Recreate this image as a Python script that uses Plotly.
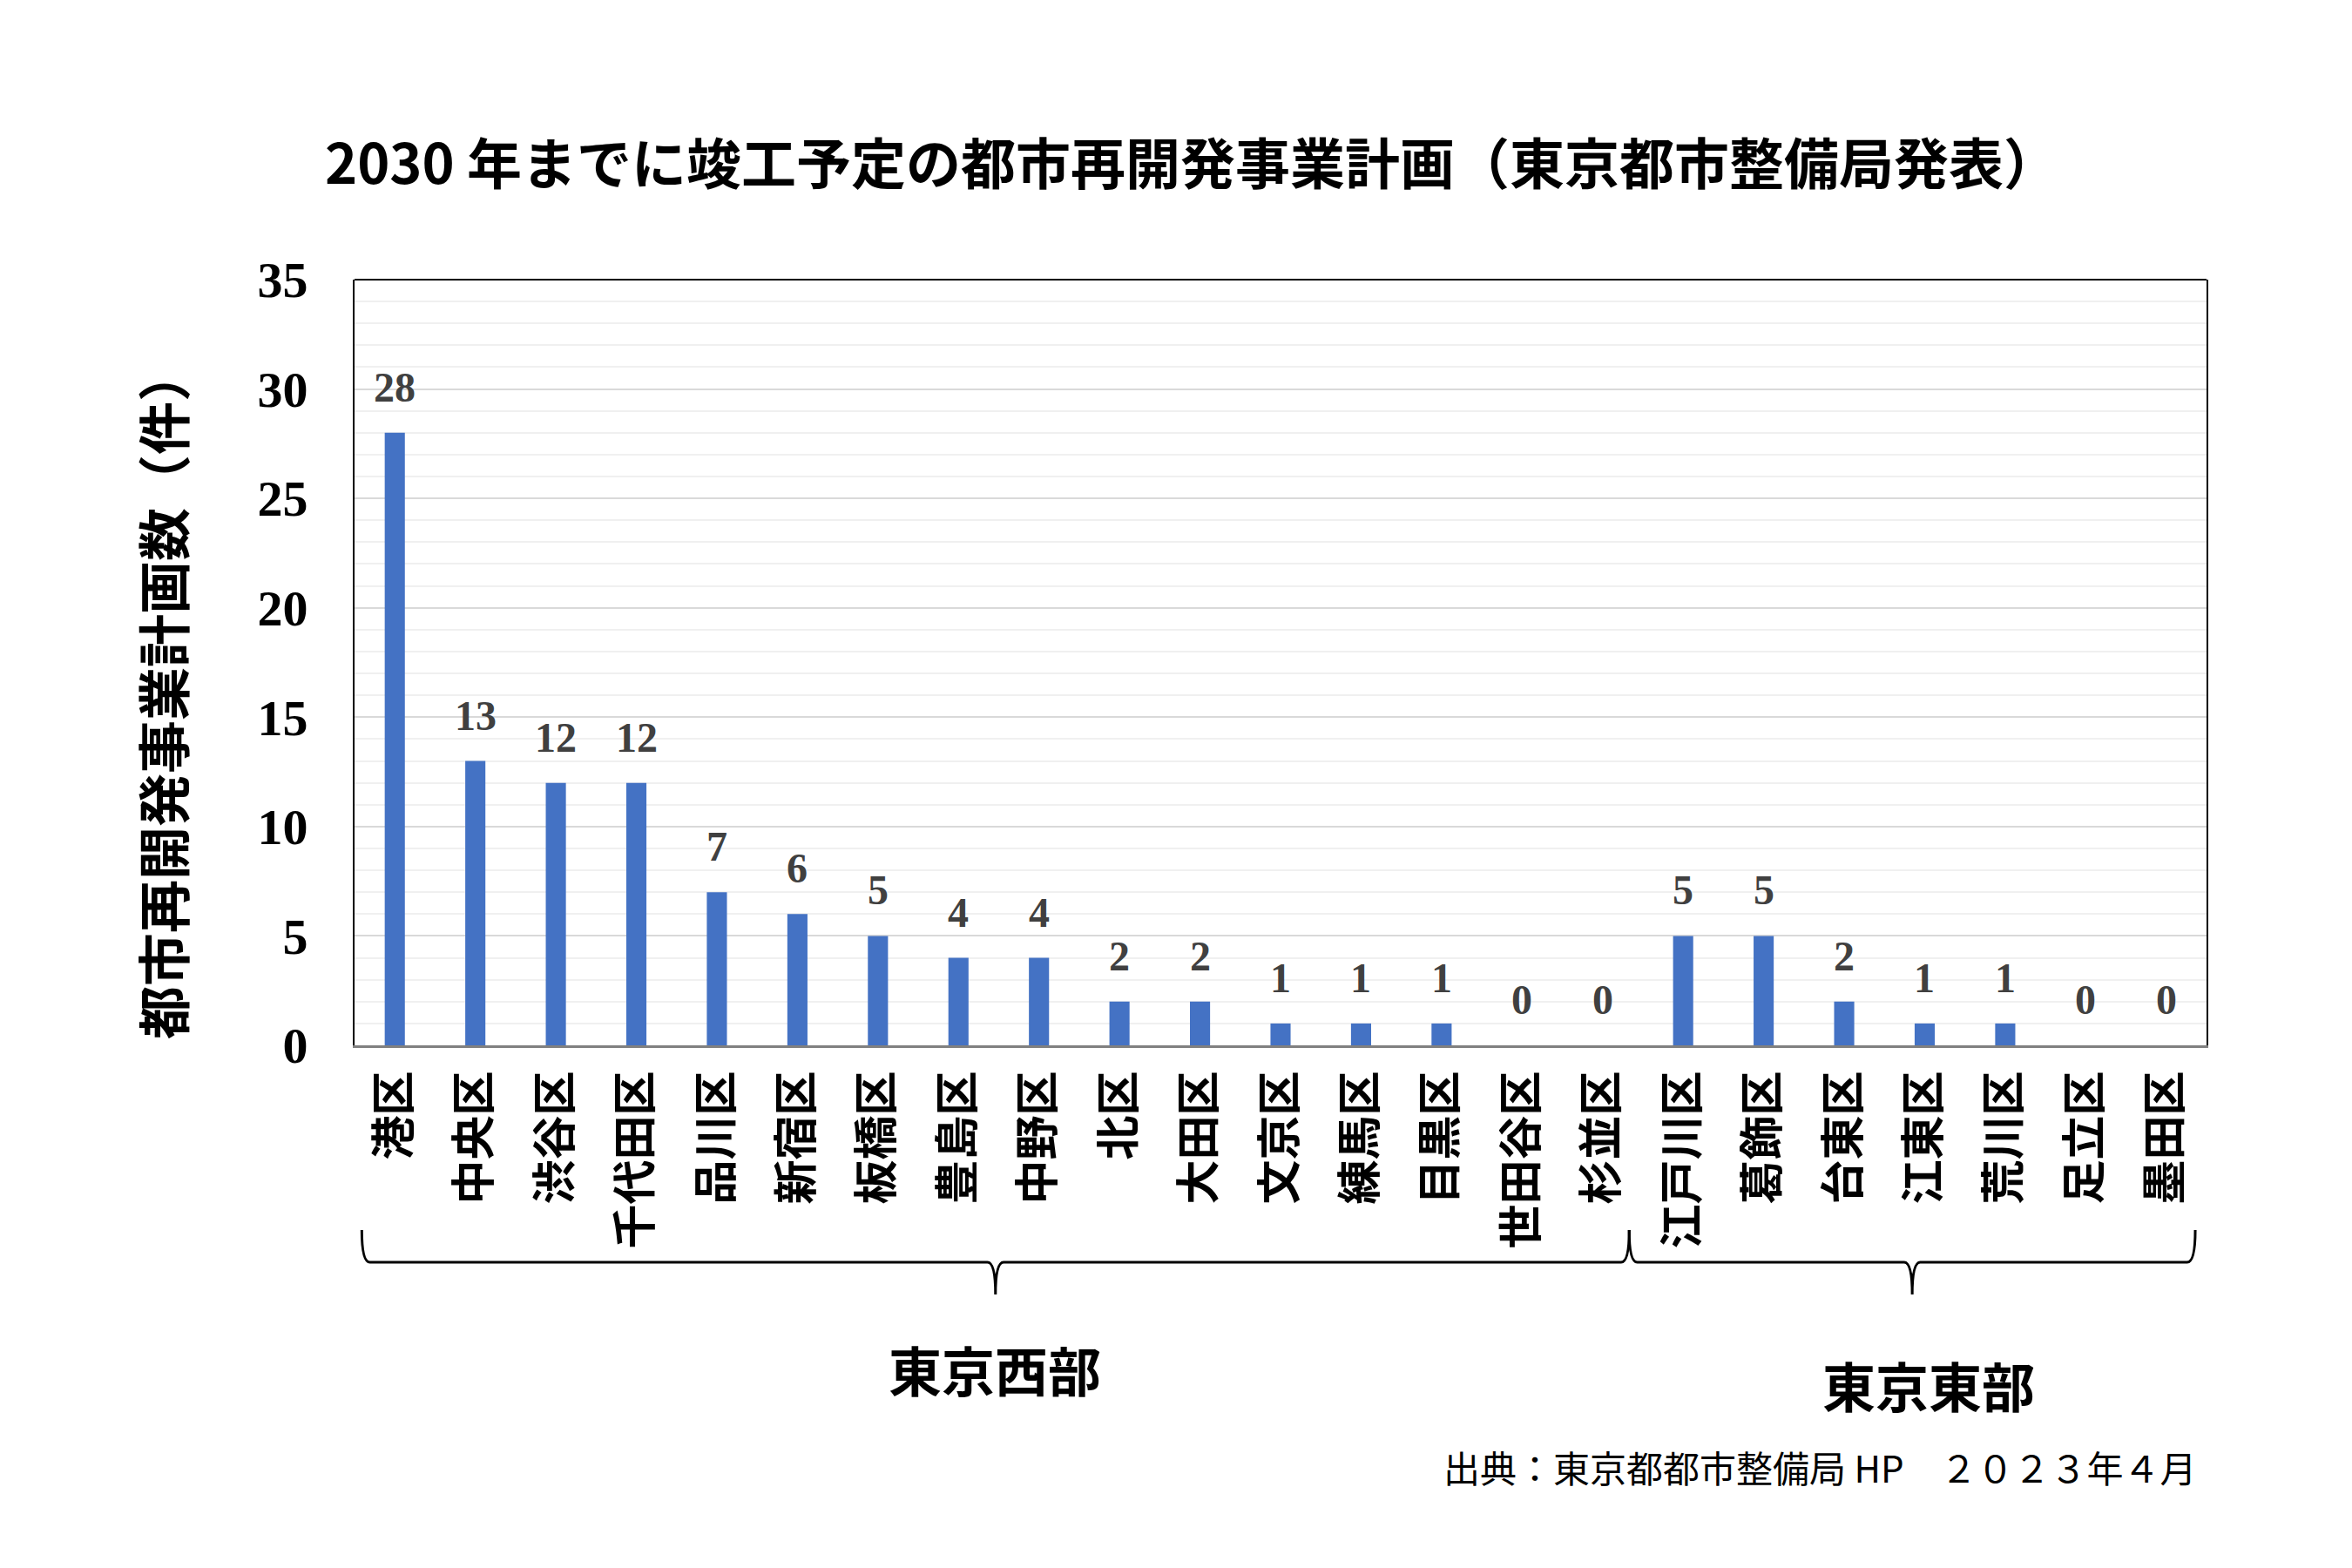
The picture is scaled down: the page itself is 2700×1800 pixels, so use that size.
import plotly.graph_objects as go

# ---- data ----
wards = ["港区", "中央区", "渋谷区", "千代田区", "品川区", "新宿区", "板橋区", "豊島区",
         "中野区", "北区", "大田区", "文京区", "練馬区", "目黒区", "世田谷区", "杉並区",
         "江戸川区", "葛飾区", "台東区", "江東区", "荒川区", "足立区", "墨田区"]
counts = [28, 13, 12, 12, 7, 6, 5, 4, 4, 2, 2, 1, 1, 1, 0, 0,
          5, 5, 2, 1, 1, 0, 0]
groups = ["東京西部", "東京東部"]
group_ranges = [(0, 15), (16, 22)]   # index ranges of wards in each group
y_ticks = [0, 5, 10, 15, 20, 25, 30, 35]

title_text = "2030 年までに竣工予定の都市再開発事業計画（東京都市整備局発表）"
y_title = "都市再開発事業計画数（件）"
source_text = "出典：東京都都市整備局 HP　２０２３年４月"

CJK = "Noto Sans CJK JP"
SERIF = "Liberation Serif"

W, H = 2700, 1800
OFF = 8  # page body margin
# target page-pixel geometry of plot area
PL, PR, PT, PB = 407, 2533, 321, 1200
L = PL - OFF
T = PT - OFF
R = W - (PR - OFF)
B = H - (PB - OFF)
plot_h = PB - PT

def py(page_y):
    return (PB - page_y) / plot_h

fig = go.Figure()
fig.add_trace(go.Bar(
    x=wards, y=counts, width=0.25,
    marker=dict(color="#4472C4", line=dict(width=0)),
    hoverinfo="x+y",
))

annotations = []
for w, c in zip(wards, counts):
    annotations.append(dict(
        x=w, y=c, xref="x", yref="y", text=f"<b>{c}</b>", showarrow=False,
        yanchor="bottom", yshift=24,
        font=dict(family=SERIF, size=48, color="#404040"),
    ))

# y-axis title
annotations.append(dict(
    xref="paper", yref="paper", x=0, y=py(797),
    xanchor="center", yanchor="middle", xshift=185 - PL,
    text=f"<b>{y_title}</b>", textangle=-90, showarrow=False,
    font=dict(family=CJK, size=61, color="black"),
))

# braces and group labels
y_top, y_mid, y_bot = py(1412), py(1449), py(1486)
shapes = []
brace_x = [(-0.41, 15.33), (15.33, 22.36)]
label_pos = [(1142, 1571), (2214, 1589)]
for (x0, x1), g, (lxp, lyp) in zip(brace_x, groups, label_pos):
    xm = (x0 + x1) / 2
    dx = 0.1
    path = (f"M {x0},{y_top} Q {x0},{y_mid} {x0+dx},{y_mid} "
            f"L {xm-dx},{y_mid} Q {xm},{y_mid} {xm},{y_bot} "
            f"Q {xm},{y_mid} {xm+dx},{y_mid} "
            f"L {x1-dx},{y_mid} Q {x1},{y_mid} {x1},{y_top}")
    shapes.append(dict(type="path", xref="x", yref="paper", path=path,
                       line=dict(color="black", width=3)))
    annotations.append(dict(
        x=(lxp - PL) / (PR - PL), y=py(lyp), xref="paper", yref="paper",
        text=f"<b>{g}</b>",
        showarrow=False, xanchor="center", yanchor="middle",
        font=dict(family=CJK, size=61, color="black"),
    ))

# source note
annotations.append(dict(
    xref="paper", yref="paper", x=1, y=py(1683), xshift=-9,
    xanchor="right", yanchor="middle", text=source_text, showarrow=False,
    font=dict(family=CJK, size=42, color="black"),
))

# top border line
shapes.append(dict(type="line", xref="paper", yref="paper", x0=0, x1=1, y0=1, y1=1,
                   line=dict(color="black", width=2)))

fig.update_layout(
    width=W, height=H,
    margin=dict(l=L, r=R, t=T, b=B, autoexpand=False),
    paper_bgcolor="white", plot_bgcolor="white",
    showlegend=False,
    title=dict(text=f"<b>{title_text}</b>", x=(1368 - OFF) / W, xanchor="center",
               y=1 - (189 - OFF) / H, yanchor="middle", yref="container",
               font=dict(family=CJK, size=63, color="black")),
    xaxis=dict(
        type="category", showgrid=False, ticks="",
        tickangle=-90, ticklabelstandoff=6,
        tickfont=dict(family=CJK, size=51, color="black", weight="bold"),
        showline=True, linecolor="#808080", linewidth=3,
        range=[-0.5, len(wards) - 0.5],
    ),
    yaxis=dict(
        range=[0, 35], tickvals=y_ticks, ticks="",
        ticklabelstandoff=40,
        tickfont=dict(family=SERIF, size=58, color="black", weight="bold"),
        showgrid=True, gridcolor="#d9d9d9", gridwidth=2,
        minor=dict(dtick=1, showgrid=True, gridcolor="#f0f0f0", gridwidth=2),
        showline=True, linecolor="black", linewidth=2, mirror=True,
        zeroline=False,
    ),
    annotations=annotations,
    shapes=shapes,
)

fig.write_html("out.html")
